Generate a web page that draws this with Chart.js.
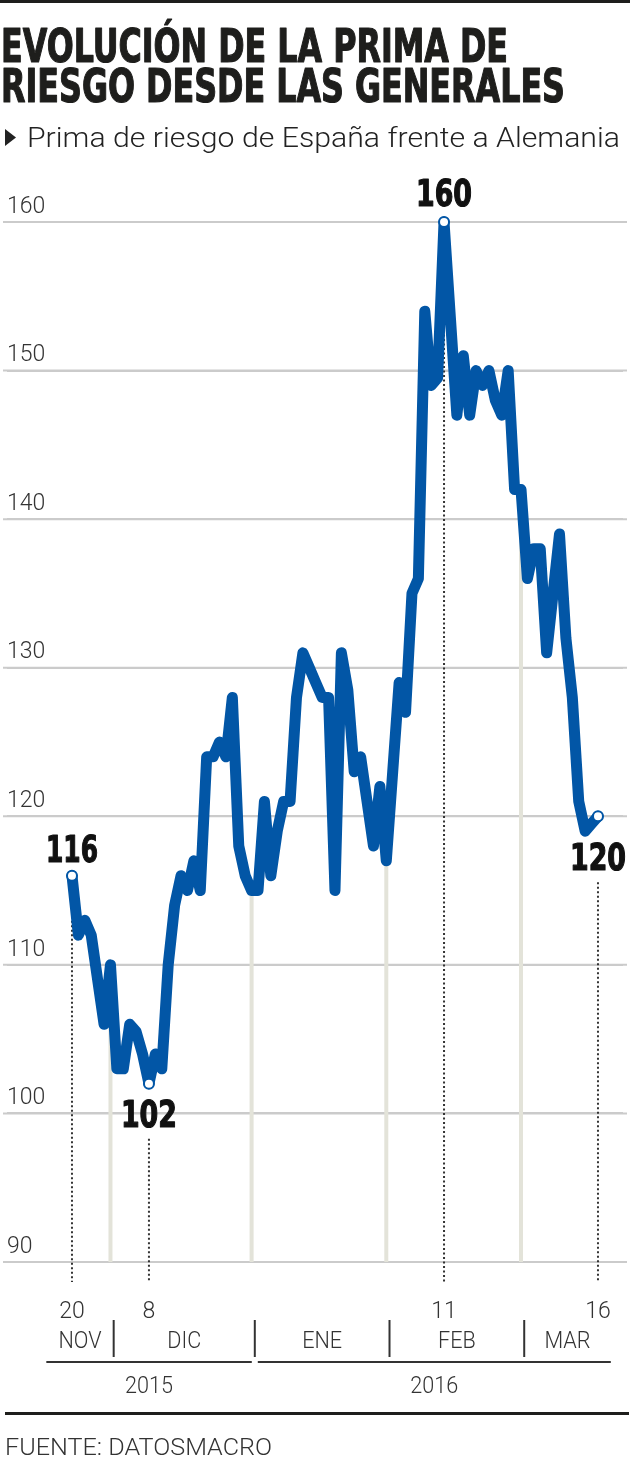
<!DOCTYPE html>
<html><head><meta charset="utf-8">
<script src="https://cdn.jsdelivr.net/npm/chart.js@4.4.1/dist/chart.umd.min.js"></script>
<style>html,body{margin:0;padding:0;background:#fff;}canvas{display:block;}</style>
</head><body>
<canvas id="c" width="630" height="1457"></canvas>
<script>
// ---- DATA ----
const values = [
  116,112,113,112,109,106,110,103,103,106,
  105.5,104,102,104,103,110,114,116,115,117,
  115,124,124,125,124,128,118,116,115,115,
  121,116,119,121,121,128,131,130,129,128,
  128,115,131,128.5,123,124,121,118,122,117,
  123,129,127,135,136,154,149,149.5,160,153.5,
  147,151,147,150,149,150,148,147,150,142,
  142,136,138,138,131,135,139,132,128,121,
  119,119.5,120
];
const tickIdx = [0, 12, 58, 82];
const tickLabels = ['20', '8', '11', '16'];
const highlightIdx = [0, 12, 58, 82];
const monthEndIdx = [6, 28, 49, 70];
const monthNames = ['NOV', 'DIC', 'ENE', 'FEB', 'MAR'];
const monthBounds = [-4, 6.5, 28.5, 49.5, 70.5, 84];
const yearNames = ['2015', '2016'];
const yearBounds = [[-4, 28.5], [28.5, 84]];
const yMin = 90, yMax = 160, yStep = 10;

// ---- STYLE ----
const BLUE = '#0256a6';
const INK = '#1e1e1c';
const GRID = '#cbcbcb';
const LIGHT = '300 24px Roboto, "Open Sans", sans-serif';
const BOLDC = 'bold 37px "DejaVu Sans Condensed", "Liberation Sans Narrow", "DejaVu Sans", sans-serif';
const annot = [
  {dy: -14, w: 52, below: false},
  {dy: 43, w: 56, below: true},
  {dy: -16, w: 56, below: false},
  {dy: 54, w: 56, below: true}
];

function txt(ctx, s, x, y, font, color, align, targetW, sx, stroke) {
  ctx.save();
  ctx.font = font; ctx.fillStyle = color; ctx.textBaseline = 'alphabetic';
  ctx.textAlign = align;
  const w = ctx.measureText(s).width;
  const k = targetW ? targetW / w : (sx || 1);
  ctx.translate(x, y); ctx.scale(k, 1);
  ctx.fillText(s, 0, 0);
  if (stroke) { ctx.strokeStyle = color; ctx.lineWidth = stroke; ctx.lineJoin = 'round'; ctx.strokeText(s, 0, 0); }
  ctx.restore();
}

const deco = {
  id: 'deco',
  beforeDatasetsDraw(chart) {
    const {ctx, chartArea, scales: {x, y}} = chart;
    ctx.save();
    // extend grid lines to the page margins
    ctx.strokeStyle = GRID; ctx.lineWidth = 2;
    y.ticks.forEach(t => {
      const py = y.getPixelForValue(t.value);
      ctx.beginPath(); ctx.moveTo(3, py); ctx.lineTo(627, py); ctx.stroke();
    });
    ctx.strokeStyle = '#e3e3d9'; ctx.lineWidth = 4;
    monthEndIdx.forEach(i => {
      const px = x.getPixelForValue(i);
      ctx.beginPath(); ctx.moveTo(px, y.getPixelForValue(values[i])); ctx.lineTo(px, chartArea.bottom); ctx.stroke();
    });
    ctx.strokeStyle = '#333'; ctx.lineWidth = 2; ctx.setLineDash([2, 2.5]);
    highlightIdx.forEach((i, k) => {
      const px = x.getPixelForValue(i), py = y.getPixelForValue(values[i]);
      const a = annot[k];
      const start = a.below ? py + a.dy + 12 : py;
      ctx.beginPath(); ctx.moveTo(px, start); ctx.lineTo(px, chartArea.bottom + 20); ctx.stroke();
    });
    ctx.restore();
  },
  afterDatasetsDraw(chart) {
    const {ctx, scales: {x, y}} = chart;
    highlightIdx.forEach((i, k) => {
      const px = x.getPixelForValue(i), py = y.getPixelForValue(values[i]);
      txt(ctx, String(values[i]), px, py + annot[k].dy, BOLDC, '#111', 'center', annot[k].w, 0, 1.2);
    });
  },
  afterDraw(chart) {
    const {ctx, chartArea, scales: {x}} = chart;
    ctx.save();
    ctx.fillStyle = INK; ctx.fillRect(0, 0, 630, 3);
    const TF = 'bold 47px "DejaVu Sans Condensed", "Liberation Sans Narrow", "DejaVu Sans", sans-serif';
    txt(ctx, 'EVOLUCIÓN DE LA PRIMA DE', 1, 62, TF, INK, 'left', 507, 0, 1.2);
    txt(ctx, 'RIESGO DESDE LAS GENERALES', 1, 102, TF, INK, 'left', 564, 0, 1.2);
    ctx.fillStyle = '#222';
    ctx.beginPath(); ctx.moveTo(5, 129); ctx.lineTo(5, 146); ctx.lineTo(16, 137.5); ctx.closePath(); ctx.fill();
    txt(ctx, 'Prima de riesgo de España frente a Alemania', 27, 147, '300 28px Roboto, "Open Sans", sans-serif', '#222', 'left', 593);
    const base = chartArea.bottom;
    ctx.strokeStyle = '#333'; ctx.lineWidth = 2;
    for (let m = 1; m < monthBounds.length - 1; m++) {
      const px = x.getPixelForValue(monthBounds[m]);
      ctx.beginPath(); ctx.moveTo(px, base + 58); ctx.lineTo(px, base + 95); ctx.stroke();
    }
    monthNames.forEach((n, m) => {
      const c = (x.getPixelForValue(monthBounds[m]) + x.getPixelForValue(monthBounds[m + 1])) / 2;
      txt(ctx, n, c, base + 86, LIGHT, '#333', 'center', 0, 0.9);
    });
    yearNames.forEach((n, k) => {
      const a = x.getPixelForValue(yearBounds[k][0]) + (k ? 3 : 0);
      const b = x.getPixelForValue(yearBounds[k][1]) - (k ? 0 : 3);
      ctx.beginPath(); ctx.moveTo(a, base + 100); ctx.lineTo(b, base + 100); ctx.stroke();
      txt(ctx, n, (a + b) / 2, base + 131, LIGHT, '#333', 'center', 0, 0.9);
    });
    ctx.fillStyle = INK; ctx.fillRect(5, 1412, 624, 3);
    txt(ctx, 'FUENTE: DATOSMACRO', 5, 1455, LIGHT, '#333', 'left', 267);
    ctx.restore();
  }
};

new Chart(document.getElementById('c'), {
  type: 'line',
  data: {
    datasets: [{
      data: values.map((v, i) => ({x: i, y: v})),
      borderColor: BLUE, borderWidth: 11, borderJoinStyle: 'round', borderCapStyle: 'round',
      tension: 0, clip: false, fill: false,
      pointRadius: values.map((v, i) => highlightIdx.includes(i) ? 5 : 0),
      pointHoverRadius: 0,
      pointBackgroundColor: '#fff', pointBorderColor: BLUE, pointBorderWidth: 2
    }]
  },
  options: {
    responsive: false, animation: false, devicePixelRatio: 1, events: [],
    layout: {padding: {top: 222, left: 1, right: 0, bottom: 0}},
    plugins: {legend: {display: false}, tooltip: {enabled: false}},
    scales: {
      x: {
        type: 'linear', min: -10.13, max: 85.9,
        grid: {display: false}, border: {display: false},
        afterBuildTicks: s => { s.ticks = tickIdx.map(v => ({value: v})); },
        afterFit: s => { s.height = 195; s.paddingLeft = 0; s.paddingRight = 0; },
        ticks: {
          autoSkip: false, maxRotation: 0, padding: 28, color: '#333',
          font: {family: 'Roboto', weight: '300', size: 23},
          callback: v => { const k = tickIdx.indexOf(v); return k < 0 ? '' : tickLabels[k]; }
        }
      },
      y: {
        min: yMin, max: yMax,
        afterFit: s => { s.width = 0; s.paddingTop = 0; s.paddingBottom = 0; },
        grid: {color: GRID, lineWidth: 2, drawTicks: false},
        border: {display: false},
        ticks: {
          stepSize: yStep, mirror: true, padding: 0, labelOffset: -15, color: '#333',
          font: {family: 'Roboto', weight: '300', size: 23}
        }
      }
    }
  },
  plugins: [deco]
});
</script>
</body></html>
